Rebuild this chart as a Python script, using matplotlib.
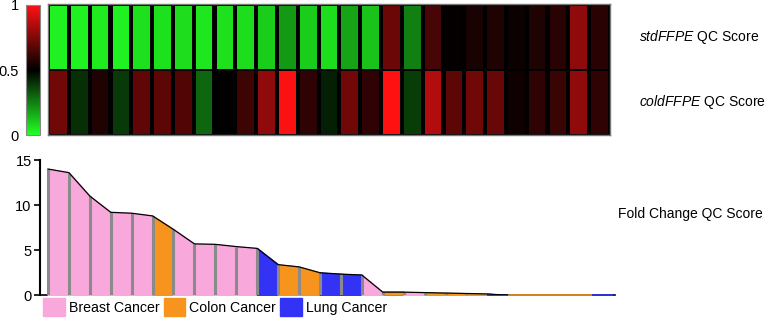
import matplotlib
matplotlib.use("Agg")
import matplotlib.pyplot as plt
import numpy as np
from matplotlib.colors import LinearSegmentedColormap
from matplotlib.patches import Patch

plt.rcParams['font.family'] = ['Liberation Sans', 'DejaVu Sans']
plt.rcParams['mathtext.fontset'] = 'custom'
plt.rcParams['mathtext.it'] = 'Liberation Sans:italic'
plt.rcParams['mathtext.rm'] = 'Liberation Sans'

# QC scores per sample (0 = green, 1 = red)
std_ffpe = [0.03, 0.03, 0.04, 0.03, 0.06, 0.06, 0.07, 0.05, 0.06, 0.07, 0.10, 0.20, 0.10,
            0.07, 0.18, 0.12, 0.71, 0.25, 0.64, 0.51, 0.55, 0.56, 0.52, 0.56, 0.58, 0.78, 0.58]
cold_ffpe = [0.72, 0.41, 0.56, 0.39, 0.69, 0.68, 0.66, 0.30, 0.50, 0.62, 0.78, 0.99, 0.59,
             0.44, 0.72, 0.59, 1.00, 0.38, 0.85, 0.68, 0.72, 0.70, 0.53, 0.59, 0.61, 0.78, 0.59]

# fold change profile (sample boundaries) and cancer type per sample
fold_change = [14.0, 13.6, 11.0, 9.2, 9.1, 8.8, 7.3, 5.7, 5.65, 5.4, 5.2, 3.4, 3.15, 2.5,
               2.35, 2.25, 0.35, 0.35, 0.3, 0.25, 0.2, 0.15, 0.0, 0.0, 0.0, 0.0, 0.0, 0.0]
cancer = ['Breast'] * 5 + ['Colon'] + ['Breast'] * 4 + ['Lung'] + ['Colon'] * 2 + ['Lung'] * 2 + \
         ['Breast', 'Colon', 'Breast', 'Colon', 'Colon', 'Colon', 'Lung'] + ['Colon'] * 4 + ['Lung']

type_colors = {'Breast': '#f9a8dc', 'Colon': '#f7941d', 'Lung': '#3333f5'}
legend_labels = ['Breast Cancer', 'Colon Cancer', 'Lung Cancer']

cmap = LinearSegmentedColormap.from_list('gbr', ['#22ff22', '#000000', '#ff1111'])
W, H = 769, 324
fig = plt.figure(figsize=(W / 100, H / 100), dpi=100)

# heatmap
ax_h = fig.add_axes([48 / W, 1 - 135 / H, 562 / W, 131 / H])
ax_h.set_facecolor('black')
n = len(std_ffpe)
x = np.arange(n) + 0.5
ax_h.bar(x, 0.97, bottom=1.015, width=0.8, color=cmap(np.array(std_ffpe)))
ax_h.bar(x, 0.97, bottom=0.015, width=0.8, color=cmap(np.array(cold_ffpe)))
ax_h.set_xlim(0, n)
ax_h.set_ylim(0, 2.02)
ax_h.set_xticks([])
ax_h.set_yticks([])
for s in ax_h.spines.values():
    s.set_color('#777777')
    s.set_linewidth(1)
ax_h.text(1.051, 0.75, r'$\it{stdFFPE}$ QC Score', transform=ax_h.transAxes,
          fontsize=10, va='center', ha='left')
ax_h.text(1.051, 0.25, r'$\it{coldFFPE}$ QC Score', transform=ax_h.transAxes,
          fontsize=10, va='center', ha='left')

# colorbar
cax = fig.add_axes([26 / W, 1 - 135 / H, 14 / W, 130 / H])
sm = plt.cm.ScalarMappable(cmap=cmap, norm=plt.Normalize(0, 1))
cb = fig.colorbar(sm, cax=cax, ticks=[0, 0.5, 1])
cb.ax.yaxis.set_ticks_position('left')
cb.ax.set_yticklabels(['0', '0.5', '1'])
cb.ax.tick_params(length=0, pad=5, labelsize=10.5)
cb.outline.set_edgecolor('#888888')

# fold change area chart
ax = fig.add_axes([40 / W, 1 - 295.3 / H, 575 / W, 135.3 / H])
xs = np.arange(len(fold_change))
for i, c in enumerate(cancer):
    col = type_colors[c]
    ax.fill_between(xs[i:i + 2], 0, fold_change[i:i + 2], facecolor=col,
                    edgecolor=col, linewidth=1.2, zorder=2)
ax.vlines(xs, 0, fold_change, color='#8a8a8a', linewidth=2.2, zorder=3)
fc = np.array(fold_change)
last = int(np.nonzero(fc > 0)[0].max()) + 1
ax.plot(xs[:last + 1], fc[:last + 1], color='black', linewidth=0.9, zorder=4)

ax.set_xlim(-0.38, len(fold_change) - 1 + 0.1)
ax.set_ylim(0, 15)
ax.set_yticks([0, 5, 10, 15])
ax.set_xticks([])
ax.tick_params(axis='y', length=4, width=1.2, labelsize=10.5, pad=2)
for s in ['top', 'right']:
    ax.spines[s].set_visible(False)
ax.spines['left'].set_linewidth(1.5)
ax.spines['bottom'].set_linewidth(1.2)
ax.spines['bottom'].set_zorder(0)
ax.text(1.005, 0.6, 'Fold Change QC Score', transform=ax.transAxes,
        fontsize=10, va='center', ha='left')

handles = [Patch(facecolor=type_colors[k], edgecolor=type_colors[k]) for k in ['Breast', 'Colon', 'Lung']]
fig.legend(handles, legend_labels, loc='upper left', bbox_to_anchor=(42 / W, 1 - 297 / H),
           ncol=3, frameon=False, fontsize=10.2, handlelength=1.5, handleheight=1.5,
           handletextpad=0.3, columnspacing=0.3, borderpad=0.1, borderaxespad=0)

fig.savefig('out.png', dpi=100)
